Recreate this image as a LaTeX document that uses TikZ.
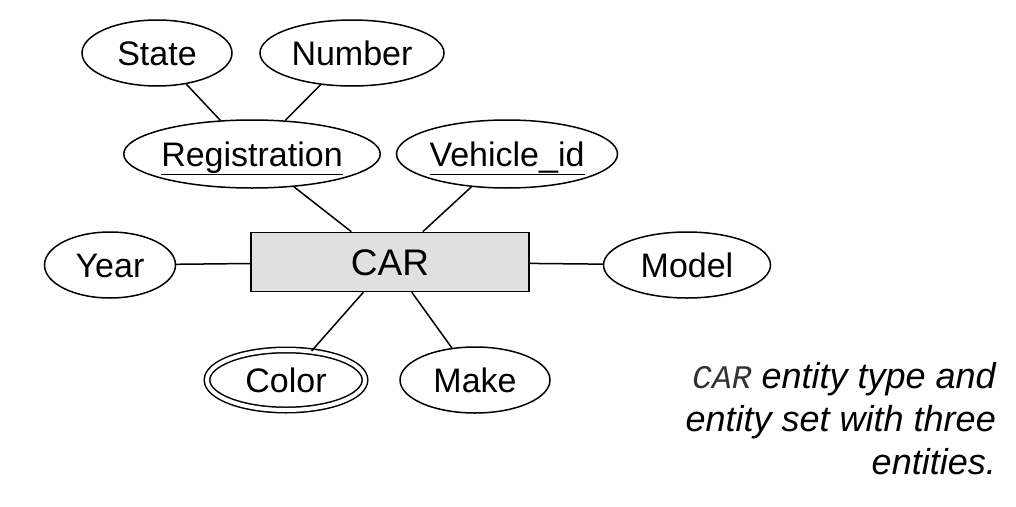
\documentclass[tikz,border=0pt]{standalone}
\usepackage{fontspec}
\setmainfont{Liberation Sans}
\newfontfamily\codefont{Liberation Mono}
\usetikzlibrary{shapes.geometric}
\tikzset{
  attr/.style={draw, ellipse, line width=1.5pt, inner sep=0pt,
    minimum height=66pt, text height=24pt, text depth=0pt,
    font=\fontsize{34}{36}\selectfont},
  entity/.style={draw, rectangle, line width=1.6pt, fill=black!12,
    minimum width=278pt, minimum height=59pt, text height=26.5pt, text depth=0pt,
    font=\fontsize{37}{40}\selectfont},
}
\begin{document}
\begin{tikzpicture}[x=1pt,y=-1pt]
      \useasboundingbox (0,0) rectangle (1016,506);
      \node[entity] (car) at (390,262) {CAR};
      \draw
        (157,53) node[attr, minimum width=150pt] (state){State}
        (352,53) node[attr, minimum width=184pt] (number){Number}
        (252,154) node[attr, minimum width=247pt, minimum height=68pt] (reg){\underline{Registration}}
        (507,154) node[attr, minimum width=221pt, minimum height=68pt] (vid){\underline{Vehicle\_id}}
        (110,265) node[attr, minimum width=131pt] (year){Year}
        (687,265) node[attr, minimum width=167pt] (model){Model}
        (286,380) node[attr, double, double distance=4pt, minimum width=158pt, minimum height=60pt] (color){Color}
        (475,380) node[attr, minimum width=150pt] (make){Make};
      \begin{scope}[-, line width=1.5pt]
        \draw (state) to (reg);
        \draw (number) to (reg);
        \draw (reg) to (car);
        \draw (vid) to (car);
        \draw (year) to (car);
        \draw (model) to (car);
        \draw (color) to (car);
        \draw (make) to (car);
      \end{scope}
      \node[anchor=north east, align=right, inner sep=0pt,
        font=\itshape\fontsize{36}{43}\selectfont] (caption) at (996,362)
        {{\codefont\itshape\color{black!80}\fontsize{33}{43}\selectfont CAR} entity type and\\entity set with three\\entities.};
    \end{tikzpicture}
\end{document}
